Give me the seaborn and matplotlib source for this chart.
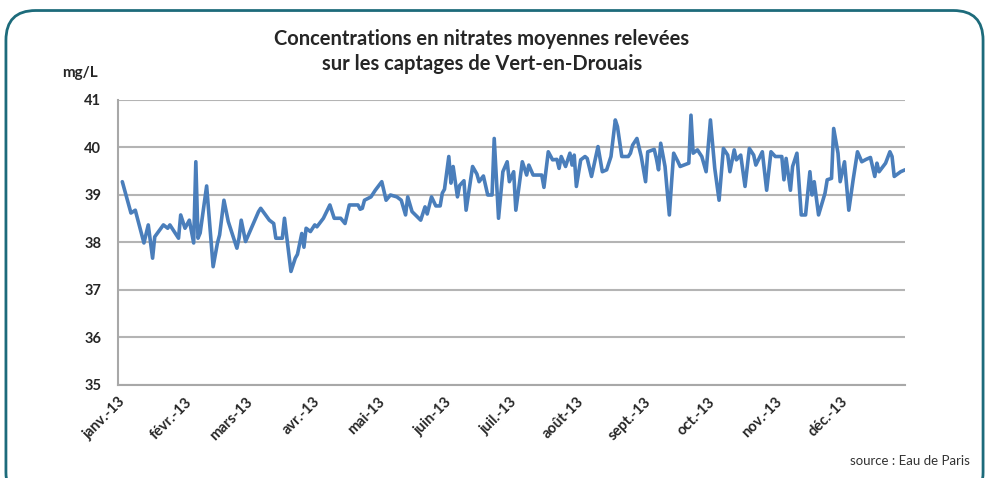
import pandas as pd
import seaborn as sns
import matplotlib.pyplot as plt
from matplotlib.patches import FancyBboxPatch

# day of year (0 = 1 Jan 2013) and nitrate concentration
days = [2, 6, 8, 12, 14, 16, 17, 21, 23, 24, 28, 29, 31, 33, 35, 36, 37, 38, 41, 44,
        46, 47, 49, 51, 55, 56, 57, 59, 63, 65, 66, 70, 72, 73, 76, 77, 80, 82, 83, 85,
        86, 87, 89, 91, 92, 95, 98, 100, 103, 105, 107, 111, 112, 113, 114, 117, 119, 122, 124, 126,
        129, 131, 133, 134, 136, 140, 142, 143, 145, 147, 149, 150, 151, 153, 154, 155, 157, 158, 160, 161,
        164, 166, 167, 169, 171, 173, 174, 176, 178, 180, 181, 183, 184, 187, 189, 190, 192, 196, 197, 199,
        201, 203, 204, 205, 207, 209, 210, 211, 212, 214, 216, 217, 219, 221, 222, 224, 226, 228, 230, 231,
        233, 236, 237, 238, 240, 242, 244, 245, 248, 249, 250, 251, 253, 255, 256, 257, 259, 260, 264, 265,
        266, 268, 270, 272, 274, 276, 278, 280, 282, 283, 285, 286, 288, 290, 292, 294, 295, 298, 300, 302,
        304, 307, 308, 309, 311, 312, 314, 316, 318, 320, 321, 322, 324, 327, 328, 330, 331, 333, 334, 336,
        338, 340, 342, 344, 346, 348, 350, 351, 352, 355, 357, 358, 359, 362, 364]
nitrates = [39.28, 38.62, 38.68, 37.99, 38.37, 37.67, 38.12, 38.37, 38.30, 38.37, 38.09, 38.58, 38.30, 38.47, 37.99, 39.70, 38.09, 38.20, 39.19, 37.49,
            37.99, 38.16, 38.89, 38.44, 37.88, 38.10, 38.47, 38.02, 38.44, 38.65, 38.72, 38.47, 38.40, 38.09, 38.09, 38.51, 37.39, 37.67, 37.75, 38.19,
            37.90, 38.30, 38.23, 38.37, 38.33, 38.51, 38.79, 38.51, 38.51, 38.40, 38.79, 38.79, 38.70, 38.72, 38.89, 38.96, 39.10, 39.28, 38.89, 39.00,
            38.96, 38.89, 38.58, 38.96, 38.65, 38.47, 38.75, 38.60, 38.96, 38.77, 38.77, 39.04, 39.12, 39.81, 39.25, 39.60, 38.96, 39.20, 39.30, 38.68,
            39.60, 39.44, 39.28, 39.40, 39.00, 39.00, 40.19, 38.51, 39.49, 39.70, 39.28, 39.49, 38.68, 39.70, 39.42, 39.63, 39.42, 39.42, 39.16, 39.91,
            39.74, 39.75, 39.56, 39.81, 39.60, 39.88, 39.63, 39.84, 39.18, 39.74, 39.81, 39.77, 39.39, 39.81, 40.02, 39.49, 39.53, 39.81, 40.58, 40.44,
            39.81, 39.81, 39.88, 40.05, 40.19, 39.81, 39.28, 39.91, 39.96, 39.77, 39.53, 40.09, 39.60, 38.58, 39.25, 39.88, 39.70, 39.60, 39.67, 40.68,
            39.88, 39.95, 39.81, 39.49, 40.58, 39.56, 38.89, 39.98, 39.84, 39.49, 39.95, 39.74, 39.84, 39.18, 39.98, 39.84, 39.63, 39.91, 39.10, 39.91,
            39.81, 39.81, 39.32, 39.77, 39.10, 39.60, 39.88, 38.58, 38.58, 39.49, 39.00, 39.28, 38.58, 39.04, 39.32, 39.35, 40.40, 39.88, 39.28, 39.70,
            38.68, 39.32, 39.91, 39.70, 39.75, 39.79, 39.39, 39.67, 39.49, 39.67, 39.91, 39.81, 39.39, 39.49, 39.53]

month_labels = ["janv.-13", "févr.-13", "mars-13", "avr.-13", "mai-13", "juin-13",
                "juil.-13", "août-13", "sept.-13", "oct.-13", "nov.-13", "déc.-13"]
y_ticks = [35, 36, 37, 38, 39, 40, 41]

start = pd.Timestamp("2013-01-01")
df = pd.DataFrame({"date": start + pd.to_timedelta(days, unit="D"), "nitrates": nitrates})

sns.set_style("white")
plt.rcParams["font.family"] = ["Lato", "DejaVu Sans"]
text_col = "#262626"

fig = plt.figure(figsize=(9.89, 4.78), dpi=100)
frame = FancyBboxPatch((0.006, -0.05), 0.988, 1.028, transform=fig.transFigure,
                       boxstyle="round,pad=0,rounding_size=0.03", mutation_aspect=2.07,
                       facecolor="none", edgecolor="#1d6b7b", linewidth=2)
fig.patches.append(frame)
ax = fig.add_axes([0.1193, 0.1946, 0.7958, 0.5962])
ax.patch.set_alpha(0)

sns.lineplot(data=df, x="date", y="nitrates", ax=ax, color="#4a7ebb", linewidth=2.6)

ax.set_ylim(35, 41)
ax.set_yticks(y_ticks)
ax.set_yticklabels([str(v) for v in y_ticks], fontsize=10.5, fontweight="bold", color=text_col)
ax.set_xlim(start, start + pd.Timedelta(days=364))
month_starts = pd.date_range("2013-01-01", periods=12, freq="MS")
ax.set_xticks(month_starts)
ax.set_xticklabels(month_labels, rotation=45, ha="right", rotation_mode="anchor",
                   fontsize=10.5, fontweight="bold", color=text_col)
ax.grid(axis="y", color="#b4b4b4", linewidth=1.5)
ax.set_axisbelow(True)
for side in ["top", "right"]:
    ax.spines[side].set_visible(False)
for side in ["left", "bottom"]:
    ax.spines[side].set_color("#a8a8a8")
    ax.spines[side].set_linewidth(1.5)
ax.tick_params(axis="both", length=4, width=1.2, color="#a8a8a8", direction="out", pad=3)
ax.tick_params(axis="y", pad=8)
ax.set_xlabel("")
ax.set_ylabel("")

fig.text(0.487, 0.893, "Concentrations en nitrates moyennes relevées\nsur les captages de Vert-en-Drouais",
         ha="center", va="center", fontsize=14.5, fontweight="bold", color=text_col, linespacing=1.3)
fig.text(0.081, 0.848, "mg/L", ha="center", va="center", fontsize=11, fontweight="bold", color=text_col)
fig.text(0.981, 0.036, "source : Eau de Paris", ha="right", va="center", fontsize=9.5, color="#333333")

fig.savefig("out.png", dpi=100)
